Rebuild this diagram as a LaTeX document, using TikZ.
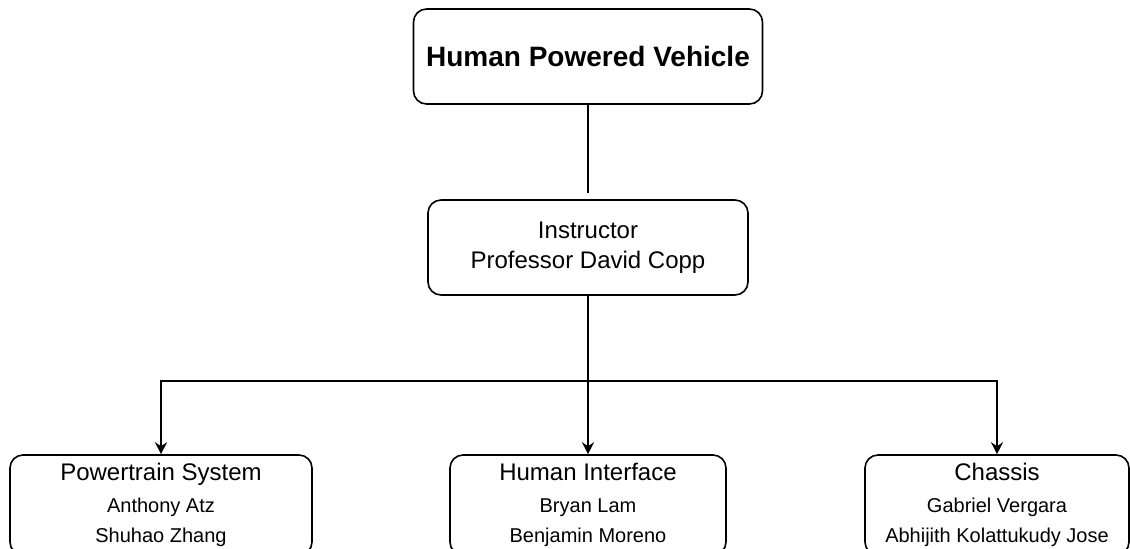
\documentclass[tikz,border=0pt]{standalone}
\usepackage{fontspec}
\setmainfont{Liberation Sans}
\usetikzlibrary{arrows.meta}

\begin{document}
\begin{tikzpicture}[x=0.5pt, y=-0.5pt]
	\tikzstyle{orgbox}=[rectangle, draw=black, line width=0.8pt, rounded corners=6.5pt, align=center, inner sep=0pt, minimum height=47.5pt]
	\tikzstyle{link}=[line width=0.8pt, -{Stealth[length=6pt, width=6pt, inset=2pt]}]

	\useasboundingbox (0,0) rectangle (1130,548);
	\clip (0,0) rectangle (1130,548);

	\node[orgbox, minimum width=174.5pt, font=\bfseries\fontsize{14}{17}\selectfont] (vehicle) at (588,56.5) {Human Powered Vehicle};
	\node[orgbox, minimum width=160pt, font=\fontsize{12}{15}\selectfont] (instructor) at (588,247.5) {Instructor\\Professor David Copp};

	\foreach \team/\x/\w/\head/\first/\second in {powertrain/161/151/Powertrain System/Anthony Atz/Shuhao Zhang, interface/588/138/Human Interface/Bryan Lam/Benjamin Moreno, chassis/997/132/Chassis/Gabriel Vergara/Abhijith Kolattukudy Jose}{
		\node[orgbox, minimum width=\w pt, minimum height=50pt, font=\fontsize{10}{15}\selectfont] (\team) at (\x,505) {{\fontsize{12}{15}\selectfont\head}\\[1pt]\first\\\second};
	}

	\coordinate (gap) at (588,193);
	\coordinate (branch) at (588,381);
	\draw[line width=0.8pt] (vehicle.south) -- (gap);
	\draw[line width=0.8pt] (instructor.south) -- (branch);
	\foreach \team in {powertrain, interface, chassis}{
		\draw[link] (branch) -| (\team.north);
	}
\end{tikzpicture}
\end{document}
